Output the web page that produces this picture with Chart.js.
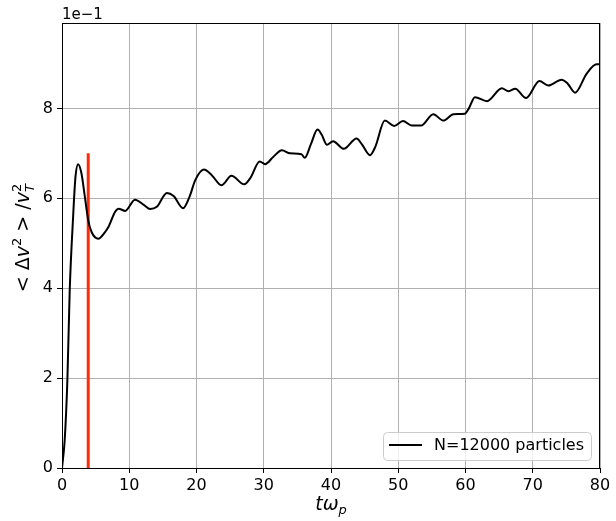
<!DOCTYPE html>
<html>
<head>
<meta charset="utf-8">
<script src="https://cdn.jsdelivr.net/npm/chart.js@4.4.0/dist/chart.umd.min.js"></script>
<style>
  body { margin: 0; background: #fff; }
  #wrap { width: 616px; height: 521px; position: relative; }
</style>
</head>
<body>
<div id="wrap"><canvas id="myChart"></canvas></div>
<script>
// time (t*omega_p) and <dv^2>/vT^2 in units of 1e-1
const times = [0, 0.4, 0.8, 1.15, 1.65, 2.0, 2.4, 2.9, 3.4, 3.9, 4.4, 5.4, 6.4, 6.9, 7.9, 8.4, 9.4,
    10.85, 12.2, 13.1, 14.1, 15.6, 16.6, 18.0, 19.0, 19.8, 21.1, 22.3, 23.7, 25.2, 27.1, 28.0, 29.4,
    30.2, 31.4, 32.7, 33.9, 35.6, 36.1, 37.0, 38.0, 38.6, 39.4, 40.3, 41.9, 43.8, 44.6, 45.8, 46.6,
    48.0, 49.4, 50.7, 52.0, 53.4, 55.2, 56.7, 58.2, 59.9, 60.5, 61.4, 63.2, 65.4, 66.4, 67.4, 69.0,
    71.0, 72.3, 74.3, 75.2, 76.3, 78.0, 79.5, 80];
const spread = [0, 0.62, 1.96, 3.96, 5.58, 6.47, 6.76, 6.55, 6.03, 5.51, 5.25, 5.1, 5.25, 5.36, 5.7, 5.77, 5.72,
    5.97, 5.85, 5.76, 5.81, 6.12, 6.05, 5.78, 6.05, 6.4, 6.64, 6.51, 6.29, 6.5, 6.31, 6.45, 6.82,
    6.76, 6.92, 7.07, 7.0, 6.98, 6.9, 7.2, 7.53, 7.42, 7.19, 7.27, 7.1, 7.33, 7.2, 6.96, 7.15,
    7.73, 7.61, 7.72, 7.62, 7.62, 7.87, 7.73, 7.87, 7.88, 8.0, 8.25, 8.16, 8.45, 8.38, 8.44, 8.23,
    8.61, 8.51, 8.64, 8.55, 8.35, 8.77, 8.98, 8.98];
const markerX = [3.9, 3.9];
const markerY = [0, 7];
const xTicks = [0, 10, 20, 30, 40, 50, 60, 70, 80];
const yTicks = [0, 2, 4, 6, 8];
const seriesLabel = 'N=12000 particles';

const FONT = '"DejaVu Sans", sans-serif';

const decorations = {
    id: 'decorations',
    afterDraw(chart) {
        const ctx = chart.ctx;
        const a = chart.chartArea;
        ctx.save();
        // frame
        ctx.strokeStyle = '#000';
        ctx.lineWidth = 1;
        ctx.strokeRect(a.left + 0.5, a.top + 0.5, a.right - a.left - 1, a.bottom - a.top);

        // offset text
        ctx.fillStyle = '#000';
        ctx.font = '15px ' + FONT;
        ctx.textAlign = 'left';
        ctx.textBaseline = 'alphabetic';
        ctx.fillText('1e\u22121', a.left, a.top - 4);

        // x title: t omega_p
        ctx.font = 'italic 19px ' + FONT;
        const w1 = ctx.measureText('t\u03c9').width;
        ctx.font = 'italic 13px ' + FONT;
        const w2 = ctx.measureText('p').width;
        let x0 = (a.left + a.right) / 2 - (w1 + w2) / 2;
        ctx.font = 'italic 19px ' + FONT;
        ctx.fillText('t\u03c9', x0, 510);
        ctx.font = 'italic 13px ' + FONT;
        ctx.fillText('p', x0 + w1, 514);

        // y title: < dv^2 > / vT^2
        ctx.translate(29, 238);
        ctx.rotate(-Math.PI / 2);
        const parts = [
            { t: '< \u0394', f: '19px', dy: 0 },
            { t: 'v', f: 'italic 19px', dy: 0 },
            { t: '2', f: '13px', dy: -8 },
            { t: ' > /', f: '19px', dy: 0 },
            { t: 'v', f: 'italic 19px', dy: 0 }
        ];
        let total = 0;
        parts.forEach(p => { ctx.font = p.f + ' ' + FONT; p.w = ctx.measureText(p.t).width; total += p.w; });
        ctx.font = '13px ' + FONT;
        const supW = ctx.measureText('2').width;
        total += supW;
        let cx = -total / 2;
        parts.forEach(p => {
            ctx.font = p.f + ' ' + FONT;
            ctx.fillText(p.t, cx, p.dy);
            cx += p.w;
        });
        ctx.font = '13px ' + FONT;
        ctx.fillText('2', cx, -8);
        ctx.font = 'italic 13px ' + FONT;
        ctx.fillText('T', cx, 5);
        ctx.restore();

        // legend
        ctx.save();
        const bx = 383, by = 432, bw = 208, bh = 28;
        ctx.fillStyle = 'rgba(255,255,255,0.8)';
        ctx.strokeStyle = '#cccccc';
        ctx.lineWidth = 1;
        ctx.beginPath();
        ctx.roundRect(bx + 0.5, by + 0.5, bw, bh, 4);
        ctx.fill();
        ctx.stroke();
        ctx.strokeStyle = '#000';
        ctx.lineWidth = 2;
        ctx.beginPath();
        ctx.moveTo(389, 445);
        ctx.lineTo(422, 445);
        ctx.stroke();
        ctx.fillStyle = '#000';
        ctx.font = '16px ' + FONT;
        ctx.textBaseline = 'middle';
        ctx.fillText(chart.data.datasets[0].label, 434, 446);
        ctx.restore();
    }
};

const ctx = document.getElementById('myChart').getContext('2d');
const myChart = new Chart(ctx, {
    type: 'line',
    data: {
        datasets: [{
            label: seriesLabel,
            data: times.map((t, i) => ({ x: t, y: spread[i] })),
            borderColor: '#000',
            borderWidth: 2,
            pointRadius: 0,
            cubicInterpolationMode: 'monotone',
            fill: false
        }, {
            label: 'marker',
            data: markerX.map((t, i) => ({ x: t, y: markerY[i] })),
            borderColor: '#ff2a0a',
            borderWidth: 3,
            pointRadius: 0,
            fill: false
        }]
    },
    plugins: [decorations],
    options: {
        responsive: true,
        maintainAspectRatio: false,
        animation: false,
        layout: { padding: { top: 23, right: 16, left: 0, bottom: 0 } },
        plugins: {
            legend: { display: false },
            tooltip: { enabled: false }
        },
        scales: {
            x: {
                type: 'linear',
                min: 0,
                max: 80,
                afterBuildTicks: scale => { scale.ticks = xTicks.map(v => ({ value: v })); },
                afterFit: scale => { scale.height = 53; },
                grid: { color: '#b0b0b0', lineWidth: 1, tickColor: '#000', tickLength: 5 },
                border: { color: '#000', width: 1 },
                ticks: { color: '#000', font: { family: FONT, size: 16 }, padding: 3, maxRotation: 0 }
            },
            y: {
                min: 0,
                max: 9.9,
                afterBuildTicks: scale => { scale.ticks = yTicks.map(v => ({ value: v })); },
                afterFit: scale => { scale.width = 62; },
                grid: { color: '#b0b0b0', lineWidth: 1, tickColor: '#000', tickLength: 5 },
                border: { color: '#000', width: 1 },
                ticks: { color: '#000', font: { family: FONT, size: 16 }, padding: 4 }
            }
        }
    }
});
</script>
</body>
</html>
